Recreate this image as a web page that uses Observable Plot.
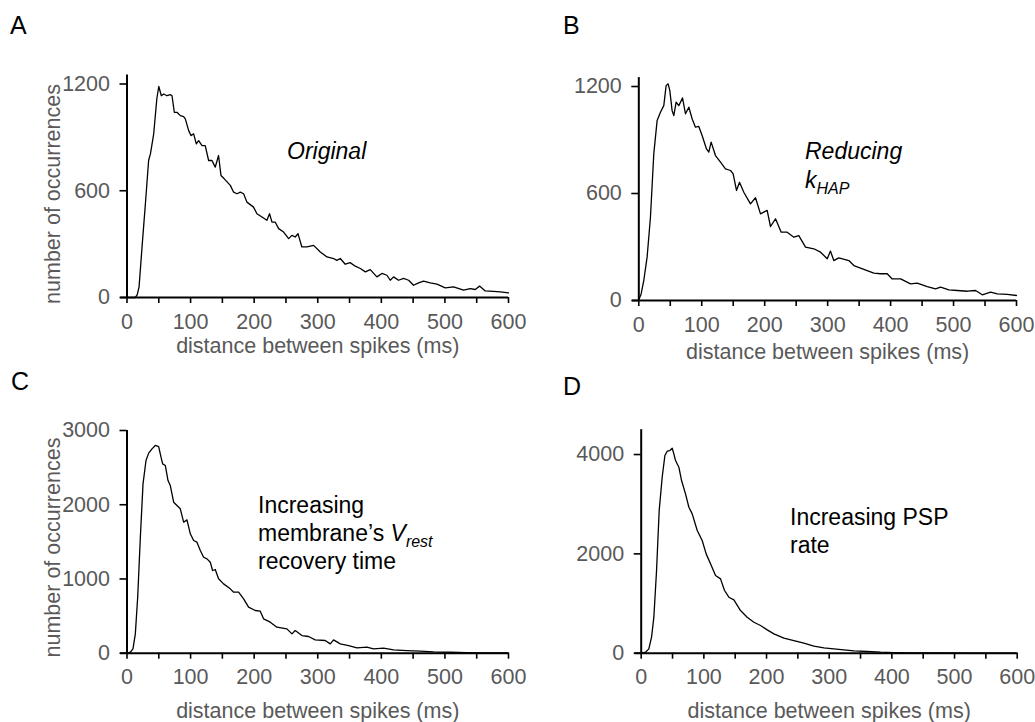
<!DOCTYPE html>
<html><head><meta charset="utf-8">
<script src="https://cdn.jsdelivr.net/npm/d3@7"></script>
<script src="https://cdn.jsdelivr.net/npm/@observablehq/plot@0.6"></script>
<style>
body{margin:0;background:#fff;}
#wrap{position:relative;width:1035px;height:722px;font-family:"Liberation Sans",Arial,sans-serif;overflow:hidden;}
</style></head><body><div id="wrap"></div>
<script>
// ---- data ----
const xTicks = [0,50,100,150,200,250,300,350,400,450,500,550,600];
const xTitle = "distance between spikes (ms)";
const yTitle = "number of occurrences";

const originalDist = [0,13,16,19,24,29,34,37,42,47,50,54,57.7,62.9,68,70.8,74.4,78.6,83.9,89,91.7,97,100.6,104.8,109,112.7,118,123,128.4,133.6,138.8,144,147.8,153,162.5,167.7,173,178.2,183.4,188.6,199,204.4,212.3,220,224.2,228,233,238.5,246.3,254.2,259.4,264.7,268.9,275,283,293.5,304,314.5,325,330,335.4,343.3,351,359,367,374.9,382.6,393,401,408.8,414,419.3,427,435,442.9,450.7,458.6,466.4,476.9,487.4,500.5,513.6,529.4,539.8,547.7,554.5,563.4,576.5,587,600];
const originalCount = [0,0,15,60,300,530,770,810,920,1120,1186,1134,1144,1134,1140,1134,1041,1041,1022,1017,1004,938,910,920,863,882,854,854,770,770,733,798,686,667,630,592,583,592,583,536,508,471,452,434,471,424,424,387,368,331,349,340,359,284,284,293,256,228,219,209,219,187,196,176,163,144,157,116,135,125,97,116,97,107,97,69,82,92,82,75,54,60,41,50,45,64,37,34,32,26];

const khapDist = [0,3.7,7.9,13.2,18.5,23.8,29.1,34.4,39.7,43.4,46.6,49.3,52.9,55.6,59.3,63.6,69.4,74.2,79.5,84.7,90,95.3,100.6,107.5,111.2,114.9,121.8,129.8,137.7,145.7,149.9,155.2,160,166.8,177.4,185.4,193.3,203.9,209.2,217.2,226.2,235.7,246.3,254.2,264.8,278.1,288.7,299.3,304.5,309.8,317.7,333.7,341.6,357.5,373.4,384,394.6,402.6,415.9,431.7,442.3,458.2,471.5,479.4,492.6,505.9,521.8,535,545.6,558.9,569.5,585.4,600];
const khapCount = [4,37,112,243,467,822,1009,1056,1093,1205,1215,1177,1065,1037,1112,1093,1136,1047,1084,1019,972,976,925,850,832,888,813,776,738,729,710,617,663,607,542,576,486,505,415,458,383,383,355,364,299,290,271,234,277,224,239,224,196,174,153,150,150,121,121,93,97,78,65,75,60,56,52,56,32,47,37,34,28];

const vrestDist = [0,5.2,9.4,13.1,16.8,21,25.2,29.9,34.1,39.3,44.5,49.8,53.5,56.1,60.3,64.5,68.1,73.4,78.6,83.8,89.1,94.3,99.6,104.8,110,115.3,120.5,125.8,131,134.6,138.8,144,151.9,162.4,167.7,175.5,183.4,191.2,201.7,209.6,214.8,225.3,235.8,251.5,259.4,264.6,275.1,285.6,296,311.8,319.7,324.9,335.4,348.5,361.6,377.3,387.8,403.5,419.2,440.2,461.1,482.1,508.3,534.5,560.7,600];
const vrestCount = [0,13,58,260,754,1563,2281,2596,2695,2753,2798,2784,2641,2551,2528,2326,2259,2034,1990,1945,1765,1796,1608,1518,1496,1383,1293,1271,1226,1114,1127,1002,934,867,822,822,732,620,575,566,463,418,350,328,260,305,238,225,180,171,126,180,126,103,72,81,58,67,45,36,27,18,13,9,5,4];

const pspDist = [0,6.9,12.2,16.5,20.2,24.5,28.7,33.5,37.8,41.5,45.7,49.5,52.1,54.8,60.1,64.4,70.7,76.1,81.4,89.4,97.3,103.7,110.6,118.6,126.6,133,139.9,147.9,158.5,169.1,179.8,190.4,201.1,211.7,227.7,243.6,259.6,275.5,291.5,307.4,323.4,339.4,360.6,381.9,403.2,435,472.3,525.5,600];
const pspCount = [0,20,87,322,725,1664,2872,3543,3980,4067,4080,4127,4013,3879,3745,3476,3208,2939,2805,2470,2268,2000,1799,1564,1497,1262,1127,1074,859,725,624,557,470,389,302,255,201,141,107,87,67,47,34,20,13,7,7,3,2];

const yTicksA = [0,600,1200], yTicksB = [0,600,1200], yTicksC = [0,1000,2000,3000], yTicksD = [0,2000,4000];
const yTopA = 1250, yTopB = 1250, yTopC = 3000, yTopD = 4500;

// ---- layout ----
const wrap = document.getElementById("wrap");
const GRAY = "#595959";
function panel(o) {
  const n = Math.min(o.dist.length, o.count.length);
  const data = d3.range(n).map(i => ({d: o.dist[i], c: o.count[i]}));
  const marks = [
    Plot.ruleY([0], {x1: -10, x2: 600, stroke: "black", strokeWidth: 2}),
    Plot.ruleX([0], {y1: 0, y2: o.yTop, stroke: "black", strokeWidth: 2}),
    Plot.axisX({ticks: xTicks, tickSize: 6, tickPadding: 10, tickFormat: d => d % 100 === 0 ? String(d) : "", stroke: "black", strokeWidth: 1.6, fill: GRAY, label: null}),
    Plot.axisY({ticks: o.yTicks, tickSize: 7, tickPadding: 10, tickFormat: d => String(d), stroke: "black", strokeWidth: 1.6, fill: GRAY, label: null}),
    Plot.line(data, {x: "d", y: "c", stroke: "black", strokeWidth: 1.3}),
    Plot.text([xTitle], {frameAnchor: "bottom", textAnchor: "middle", lineAnchor: "middle", dy: o.xTitleDy, fill: GRAY})
  ];
  if (o.yTitle) marks.push(Plot.text([yTitle], {frameAnchor: "left", textAnchor: "middle", lineAnchor: "middle", rotate: -90, dx: o.yTitleDx, dy: o.yTitleDy, fill: GRAY}));
  const p = Plot.plot({
    width: o.width, height: o.height,
    marginLeft: o.mL, marginRight: o.mR, marginTop: o.mT, marginBottom: o.mB,
    x: {domain: [0, 600]},
    y: {domain: [0, o.yTop]},
    style: {fontFamily: "'Liberation Sans', Arial, sans-serif", fontSize: "21.5px", background: "transparent", overflow: "visible", position: "absolute", left: o.left + "px", top: o.top + "px", maxWidth: "none"},
    marks
  });
  wrap.appendChild(p);
}

panel({left: 0, top: 40, width: 520, height: 330, mL: 126.5, mR: 12, mT: 34.6, mB: 73,
  dist: originalDist, count: originalCount, yTicks: yTicksA, yTop: yTopA, xTitleDy: 49, yTitle: true, yTitleDx: -73.5, yTitleDy: 7.7});
panel({left: 520, top: 40, width: 515, height: 330, mL: 118.3, mR: 19, mT: 37.1, mB: 70,
  dist: khapDist, count: khapCount, yTicks: yTicksB, yTop: yTopB, xTitleDy: 52, yTitle: false});
panel({left: 0, top: 395, width: 520, height: 327, mL: 126.5, mR: 12, mT: 35, mB: 69.3,
  dist: vrestDist, count: vrestCount, yTicks: yTicksC, yTop: yTopC, xTitleDy: 58, yTitle: true, yTitleDx: -73.5, yTitleDy: 5.7});
panel({left: 520, top: 395, width: 515, height: 327, mL: 120.7, mR: 18.3, mT: 34.2, mB: 69.3,
  dist: pspDist, count: pspCount, yTicks: yTicksD, yTop: yTopD, xTitleDy: 58, yTitle: false});

// ---- panel letters and annotations ----
const ov = d3.select(wrap).append("svg")
  .attr("width", 1035).attr("height", 722)
  .style("position", "absolute").style("left", "0px").style("top", "0px")
  .style("pointer-events", "none")
  .attr("font-family", "'Liberation Sans', Arial, sans-serif");

const letters = [["A", 10, 34], ["B", 563, 34], ["C", 11, 390], ["D", 563, 395]];
ov.selectAll("text.letter").data(letters).join("text").attr("class", "letter")
  .attr("x", d => d[1]).attr("y", d => d[2]).attr("font-size", 25).attr("fill", "black").text(d => d[0]);

function ann(x, y, parts) {
  const t = ov.append("text").attr("x", x).attr("y", y).attr("font-size", 23).attr("fill", "black");
  parts.forEach(p => {
    const s = t.append("tspan").text(p.t);
    if (p.i) s.attr("font-style", "italic");
    if (p.sub) s.attr("font-size", 16).attr("dy", 6);
  });
}
ann(287, 159, [{t: "Original", i: true}]);
ann(805, 159, [{t: "Reducing", i: true}]);
ann(805, 188, [{t: "k", i: true}, {t: "HAP", i: true, sub: true}]);
ann(258, 513, [{t: "Increasing"}]);
ann(258, 541, [{t: "membrane\u2019s "}, {t: "V", i: true}, {t: "rest", i: true, sub: true}]);
ann(258, 569, [{t: "recovery time"}]);
ann(790, 525, [{t: "Increasing PSP"}]);
ann(790, 553, [{t: "rate"}]);
</script>
</body></html>
